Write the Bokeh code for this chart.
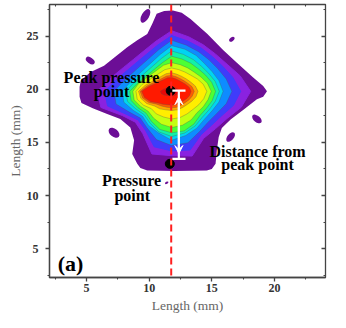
import math
from bokeh.plotting import figure
from bokeh.models import Range1d, FixedTicker, LinearAxis, Span, Arrow, VeeHead, ColumnDataSource
from bokeh.core.properties import value
from bokeh.embed import file_html
from bokeh.resources import INLINE

# ---------------- data ----------------
x_ticks = [5, 10, 15, 20]
x_minor = [2.5, 7.5, 12.5, 17.5, 22.5]
y_ticks = [5, 10, 15, 20, 25]
y_minor = [2.5, 7.5, 12.5, 17.5, 22.5, 27.5]
x_limits = [2.05, 24.07]
y_limits = [2.29, 27.97]

line_x = 11.76                      # dashed vertical line
peak_x, peak_y = 11.72, 19.85       # peak pressure point
point_x, point_y = 11.65, 12.98     # pressure point
dist_x = 12.37                      # distance indicator
dist_top, dist_bottom = 19.87, 13.45
arrow_top, arrow_bottom = 19.3, 13.95
cap_left, cap_right = 11.85, 12.9

# outer (lowest) pressure contour, mm
outer_x = [11.2, 11.9, 12.6, 13.3, 14.65, 15.9, 17.0, 18.3, 19.1, 19.4, 19.1, 18.6, 17.55, 16.5,
           15.8, 15.55, 15.4, 15.3, 15.0, 14.6, 12.0, 9.85, 9.3, 9.05, 8.65, 8.8, 8.5, 7.7,
           6.6, 5.5, 4.6, 4.45, 4.45, 4.55, 5.3, 6.4, 7.45, 8.25, 9.05, 9.85, 10.25, 10.6]
outer_y = [27.35, 27.4, 27.2, 26.6, 25.2, 23.7, 22.5, 21.1, 20.3, 19.8, 19.3, 19.05, 18.1, 17.15,
           16.35, 15.5, 14.25, 13.0, 12.5, 12.35, 12.3, 12.35, 12.6, 13.0, 13.9, 15.2, 16.4, 17.2,
           17.7, 18.2, 18.7, 19.3, 20.2, 20.8, 21.6, 22.2, 23.2, 23.95, 24.6, 25.2, 26.15, 27.1]

# small isolated islands of the lowest level
blob_x = [9.7, 5.3, 16.6, 18.6, 16.5, 7.2, 11.4]
blob_y = [26.9, 22.7, 24.7, 17.2, 15.5, 15.9, 11.2]
blob_w = [1.2, 0.8, 0.5, 0.9, 0.9, 1.0, 0.3]
blob_h = [0.7, 0.55, 0.35, 0.6, 0.6, 0.75, 0.2]
blob_angle = [60, -35, 40, -40, 50, -40, 30]

# inner contours: radius (mm) from the centre, per direction (every 15 degrees)
center_x, center_y = 11.8, 19.8
angles_deg = [0, 15, 30, 45, 60, 75, 90, 105, 120, 135, 150, 165,
              180, 195, 210, 225, 240, 255, 270, 285, 300, 315, 330, 345]
r_violet = [6.3, 5.65, 5.1, 4.95, 5.05, 5.3, 5.7, 4.88, 4.41, 4.28, 4.46, 5.0,
            5.95, 5.85, 4.55, 4.1, 4.6, 6.1, 6.05, 6.3, 5.1, 4.95, 5.1, 5.75]
r_blue   = [5.5, 5.05, 4.7, 4.6, 4.7, 4.9, 5.25, 4.47, 4.02, 3.9, 4.04, 4.52,
            5.35, 5.3, 4.25, 3.8, 4.2, 5.4, 5.6, 5.7, 4.7, 4.5, 4.6, 5.1]
r_lblue  = [4.8, 4.5, 4.25, 4.2, 4.3, 4.5, 4.8, 4.04, 3.6, 3.46, 3.56, 3.94,
            4.6, 4.6, 3.9, 3.55, 3.95, 4.7, 5.1, 5.0, 4.4, 4.1, 4.15, 4.5]
r_cyan   = [4.1, 3.9, 3.72, 3.7, 3.9, 4.1, 4.3, 3.58, 3.17, 3.03, 3.1, 3.41,
            3.95, 3.95, 3.55, 3.3, 3.7, 4.05, 4.6, 4.3, 4.0, 3.7, 3.7, 3.9]
r_aqua   = [3.8, 3.6, 3.4, 3.35, 3.45, 3.6, 3.8, 3.2, 2.85, 2.74, 2.82, 3.12,
            3.65, 3.65, 3.3, 3.1, 3.45, 3.95, 4.25, 4.05, 3.75, 3.45, 3.45, 3.6]
r_green  = [3.5, 3.3, 3.1, 3.0, 3.05, 3.15, 3.3, 2.81, 2.53, 2.45, 2.54, 2.84,
            3.35, 3.35, 3.1, 2.9, 3.25, 3.7, 3.9, 3.85, 3.55, 3.2, 3.2, 3.35]
r_lime   = [3.15, 2.95, 2.7, 2.55, 2.55, 2.6, 2.7, 2.54, 2.32, 2.29, 2.41, 2.75,
            3.1, 3.1, 2.85, 2.65, 2.9, 3.2, 3.4, 3.3, 3.1, 2.85, 2.9, 3.0]
r_yellow = [2.8, 2.6, 2.35, 2.15, 2.1, 2.12, 2.2, 2.11, 1.97, 1.97, 2.11, 2.45,
            2.85, 2.85, 2.6, 2.3, 2.45, 2.5, 2.6, 2.55, 2.45, 2.4, 2.5, 2.65]
r_orange = [2.1, 1.95, 1.75, 1.65, 1.62, 1.66, 1.75, 1.72, 1.64, 1.67, 1.83, 2.19,
            2.65, 2.55, 2.3, 1.95, 1.9, 1.8, 1.8, 1.8, 1.75, 1.75, 1.85, 2.0]
r_redor  = [1.8, 1.68, 1.5, 1.4, 1.38, 1.42, 1.5, 1.5, 1.44, 1.49, 1.65, 2.01,
            2.52, 2.4, 2.1, 1.7, 1.6, 1.55, 1.55, 1.55, 1.5, 1.5, 1.6, 1.7]
r_red    = [1.55, 1.45, 1.3, 1.2, 1.18, 1.22, 1.3, 1.32, 1.28, 1.34, 1.5, 1.86,
            2.4, 2.25, 1.95, 1.55, 1.4, 1.3, 1.3, 1.28, 1.25, 1.28, 1.38, 1.48]
r_core   = [0.6, 0.56, 0.5, 0.45, 0.43, 0.44, 0.45, 0.47, 0.47, 0.5, 0.56, 0.7,
            0.9, 0.85, 0.7, 0.55, 0.45, 0.43, 0.45, 0.44, 0.45, 0.47, 0.52, 0.57]

outer_color = "#6C0E96"
level_radii = [r_violet, r_blue, r_lblue, r_cyan, r_aqua, r_green, r_lime,
               r_yellow, r_orange, r_redor, r_red, r_core]
level_colors = ["#8A22E0", "#3F3CFA", "#0E8CFF", "#00D4F2", "#12F0A8", "#4CFF34",
                "#C4FF12", "#FFEE00", "#FFA800", "#FF5A00", "#FF1A00", "#E80808"]
level_lined = [False, False, True, True, True, True, True, True, True, True, True, True]

label_texts = ["Peak pressure", "point", "Pressure", "point", "Distance from", "peak point"]
label_x = [7.0, 7.0, 8.6, 8.65, 18.65, 18.65]
label_y = [21.1, 19.75, 11.45, 10.05, 14.1, 12.9]
panel_text = "(a)"
panel_x, panel_y = 2.7, 3.6

FONT = "Liberation Serif, serif"

# ---------------- figure ----------------
p = figure(width=346, height=328, output_backend="svg", toolbar_location=None,
           x_range=Range1d(*x_limits), y_range=Range1d(*y_limits),
           min_border_left=49, min_border_right=21, min_border_top=4, min_border_bottom=51,
           background_fill_color="white", border_fill_color="white")
p.grid.visible = False
p.outline_line_color = "#444444"
p.outline_line_width = 1.3

frame_col = "#444444"
for ax in (p.xaxis[0], p.yaxis[0]):
    ax.major_tick_out = 4
    ax.major_tick_in = 0
    ax.minor_tick_out = 2
    ax.minor_tick_in = 0
    ax.axis_line_color = frame_col
    ax.major_tick_line_color = frame_col
    ax.minor_tick_line_color = frame_col
    ax.axis_line_width = 1.3
    ax.major_tick_line_width = 1.3
    ax.minor_tick_line_width = 1.1
    ax.major_label_text_font = FONT
    ax.major_label_text_font_style = "bold"
    ax.major_label_text_font_size = "12px"
    ax.major_label_text_color = "#333333"
    ax.axis_label = "Length (mm)"
    ax.axis_label_text_font = FONT
    ax.axis_label_text_font_style = "normal"
    ax.axis_label_text_font_size = "13.5px"
    ax.axis_label_text_color = "#666666"

p.xaxis[0].ticker = FixedTicker(ticks=x_ticks, minor_ticks=x_minor)
p.yaxis[0].ticker = FixedTicker(ticks=y_ticks, minor_ticks=y_minor)
p.xaxis[0].major_label_standoff = 2
p.xaxis[0].axis_label_standoff = 3
p.yaxis[0].major_label_standoff = 7
p.yaxis[0].axis_label_standoff = 1

top = LinearAxis(ticker=FixedTicker(ticks=x_ticks, minor_ticks=x_minor))
right = LinearAxis(ticker=FixedTicker(ticks=y_ticks, minor_ticks=y_minor))
for ax in (top, right):
    ax.major_label_text_font_size = "1px"
    ax.major_label_text_color = None
    ax.major_label_standoff = 0
    ax.major_tick_in = 4
    ax.major_tick_out = 0
    ax.minor_tick_in = 2
    ax.minor_tick_out = 0
    ax.axis_line_color = frame_col
    ax.major_tick_line_color = frame_col
    ax.minor_tick_line_color = frame_col
    ax.major_tick_line_width = 1.3
    ax.minor_tick_line_width = 1.1
p.add_layout(top, "above")
p.add_layout(right, "right")

# contour fill
p.patch(outer_x, outer_y, fill_color=outer_color, line_color=None)
p.ellipse(x=blob_x, y=blob_y, width=blob_w, height=blob_h, angle=blob_angle,
          angle_units="deg", fill_color=outer_color, line_color=None)

for radii, col, lined in zip(level_radii, level_colors, level_lined):
    xs = [center_x + r * math.cos(math.radians(a)) for r, a in zip(radii, angles_deg)]
    ys = [center_y + r * math.sin(math.radians(a)) for r, a in zip(radii, angles_deg)]
    if lined:
        p.patch(xs, ys, fill_color=col, line_color="#505050", line_alpha=0.45,
                line_width=0.7, line_join="round")
    else:
        p.patch(xs, ys, fill_color=col, line_color=col, line_width=1, line_join="round")

# dashed line
p.add_layout(Span(location=line_x, dimension="height", line_color="#FF2020",
                  line_width=2, line_dash="7 4"))

# points
p.scatter([peak_x, point_x], [peak_y, point_y], size=9, fill_color="black", line_color="black")

# distance indicator
p.segment(x0=[cap_left, cap_left, dist_x], y0=[dist_top, dist_bottom, dist_top],
          x1=[cap_right, cap_right, dist_x], y1=[dist_top, dist_bottom, dist_bottom],
          line_color="white", line_width=2.2)
p.add_layout(Arrow(x_start=dist_x, y_start=arrow_bottom, x_end=dist_x, y_end=arrow_top,
                   line_color="white", line_width=2,
                   start=VeeHead(size=8, fill_color="white", line_color="white"),
                   end=VeeHead(size=8, fill_color="white", line_color="white")))

# texts
src = ColumnDataSource(dict(x=label_x, y=label_y, t=label_texts))
p.text(x="x", y="y", text="t", source=src, text_font=value(FONT), text_font_style="bold",
       text_font_size="16px", text_align="center", text_baseline="middle", text_color="black")
p.text(x=[panel_x], y=[panel_y], text=[panel_text], text_font=value(FONT), text_font_style="bold",
       text_font_size="22px", text_align="left", text_baseline="middle", text_color="black")

open("out.html", "w").write(file_html(p, INLINE))
